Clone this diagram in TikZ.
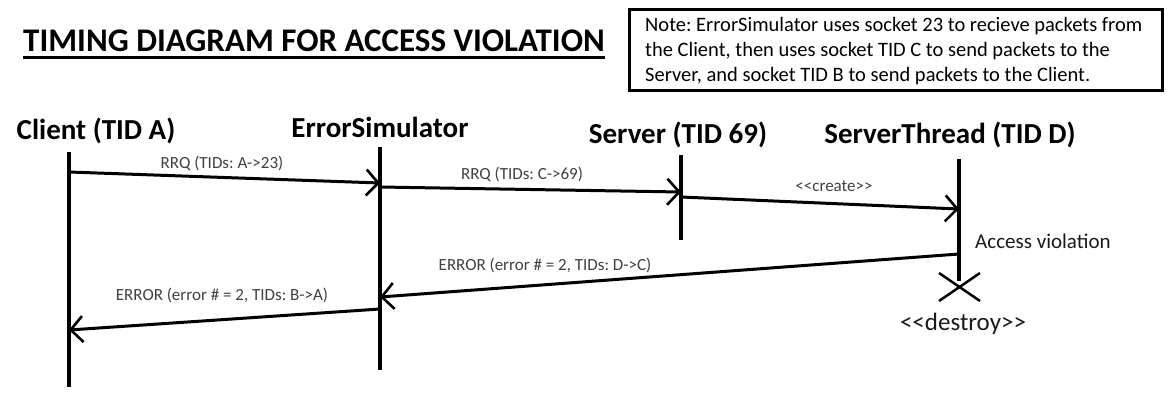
\documentclass[tikz,border=0pt]{standalone}
\usepackage{fontspec}
\setmainfont{Carlito}
\usetikzlibrary{arrows.meta}
\definecolor{lblgray}{HTML}{404040}
\definecolor{txtdark}{HTML}{1A1A1A}
\frenchspacing
\begin{document}
\frenchspacing
\begin{tikzpicture}[x=1pt,y=-1pt,
  lifeline/.style={line width=4.5pt},
  msg/.style={line width=3pt,-{Straight Barb[length=12pt,width=26pt,line width=2.6pt]}},
  msglbl/.style={font=\fontsize{17}{20}\selectfont,text=lblgray,inner sep=0pt},
  head/.style={font=\bfseries\fontsize{29}{34}\selectfont,inner sep=0pt,anchor=base},
  notetxt/.style={font=\fontsize{20.5}{25}\selectfont,inner sep=0pt,anchor=base west}
]
\useasboundingbox (0,0) rectangle (1172,402);
\fill[white] (0,0) rectangle (1172,402);

% title
\node[font=\bfseries\fontsize{33}{38}\selectfont,inner sep=0pt,anchor=base] (title) at (314,51) {TIMING DIAGRAM FOR ACCESS VIOLATION};
\path (title.base west) ++(0,6) coordinate (ulA);
\path (title.base east) ++(0,6) coordinate (ulB);
\draw[line width=3pt] (ulA) -- (ulB);

% note box
\coordinate (nbA) at (629,9);
\coordinate (nbB) at (1162,90);
\draw[line width=3pt] (nbA) rectangle (nbB);
\node[notetxt] (n1) at (645,31) {Note: ErrorSimulator uses socket 23 to recieve packets from};
\node[notetxt] (n2) at (645,56) {the Client, then uses socket TID C to send packets to the};
\node[notetxt] (n3) at (645,81) {Server, and socket TID B to send packets to the Client.};

% headers
\node[head] (hC) at (96,139) {Client (TID A)};
\node[head] (hE) at (380,137) {ErrorSimulator};
\node[head] (hS) at (678,143) {Server (TID 69)};
\node[head] (hT) at (950,143) {ServerThread (TID D)};

% lifelines
\coordinate (cT) at (69,152);  \coordinate (cB) at (69,387);
\coordinate (eT) at (380,147); \coordinate (eB) at (380,370);
\coordinate (sT) at (681,155); \coordinate (sB) at (681,240);
\coordinate (tT) at (959,159); \coordinate (tB) at (959,281);
\draw[lifeline] (cT) -- (cB);
\draw[lifeline] (eT) -- (eB);
\draw[lifeline] (sT) -- (sB);
\draw[lifeline] (tT) -- (tB);

% message end points
\coordinate (m1a) at (69,172);  \coordinate (m1b) at (380,183);
\coordinate (m2a) at (380,187); \coordinate (m2b) at (681,192);
\coordinate (m3a) at (681,197); \coordinate (m3b) at (959,209);
\coordinate (m4a) at (959,254); \coordinate (m4b) at (380,297);
\coordinate (m5a) at (380,309); \coordinate (m5b) at (69,330);

\draw[msg] (m1a) -- (m1b);
\draw[msg] (m2a) -- (m2b);
\draw[msg] (m3a) -- (m3b);
\draw[msg] (m4a) -- (m4b);
\draw[msg] (m5a) -- (m5b);

% labels
\node[msglbl] (l1) at (222,163) {RRQ (TIDs: A->23)};
\node[msglbl] (l2) at (522,174) {RRQ (TIDs: C->69)};
\node[msglbl] (l3) at (834,186) {<{}<create>{}>};
\node[msglbl] (l4) at (545,265) {ERROR (error \# = 2, TIDs: D->C)};
\node[msglbl] (l5) at (222,295) {ERROR (error \# = 2, TIDs: B->A)};

\node[font=\fontsize{21}{25}\selectfont,text=txtdark,inner sep=0pt,anchor=west] (av) at (975,241) {Access violation};

% destroy mark
\coordinate (xA) at (939,273); \coordinate (xB) at (980,301);
\coordinate (xC) at (939,301); \coordinate (xD) at (980,273);
\draw[line width=2.5pt] (xA) -- (xB);
\draw[line width=2.5pt] (xC) -- (xD);
\node[font=\fontsize{25}{30}\selectfont,text=txtdark,inner sep=0pt] (dst) at (963,324) {<{}<destroy>{}>};
\end{tikzpicture}
\end{document}
